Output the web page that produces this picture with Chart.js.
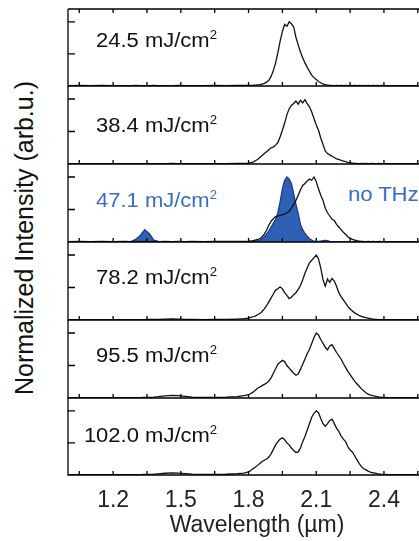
<!DOCTYPE html>
<html>
<head>
<meta charset="utf-8">
<script src="https://cdn.jsdelivr.net/npm/chart.js@4.4.1/dist/chart.umd.min.js"></script>
<style>
  html, body { margin: 0; padding: 0; background: #fff; }
  #wrap { position: relative; width: 419px; height: 541px; overflow: hidden; font-family: "Liberation Sans", Arial, sans-serif; }
  #wrap canvas { position: absolute; left: 0; }
  .lbl { position: absolute; right: 202px; font-size: 20px; line-height: 20px; white-space: nowrap; color: #111;
         transform: scaleX(1.1); transform-origin: right center; }
  .lbl span { font-size: 12px; position: relative; top: -8px; }
  .blue { color: #3a6cc2; }
  #nothz { position: absolute; left: 348px; top: 184px; font-size: 20px; line-height: 20px; color: #3a6cc2;
           transform: scaleX(1.1); transform-origin: left center; white-space: nowrap; }
  #ytitle { position: absolute; left: 24px; top: 238px; width: 360px; margin-left: -180px; margin-top: -13px;
            font-size: 25px; line-height: 26px; text-align: center; color: #111; white-space: nowrap;
            transform: rotate(-90deg); }
</style>
</head>
<body>
<div id="wrap">
  <div id="ytitle">Normalized Intensity (arb.u.)</div>
  <div id="nothz">no THz</div>
</div>
<script>
// wavelength grid (um)
const wavelength = [
  1.00, 1.05, 1.10, 1.15, 1.20, 1.25, 1.28, 1.30, 1.32, 1.34, 1.36, 1.38,
  1.40, 1.43, 1.46, 1.49, 1.52, 1.55, 1.60, 1.65, 1.70, 1.75, 1.78,
  1.80, 1.81, 1.82, 1.83, 1.84, 1.85, 1.86, 1.87, 1.88, 1.89,
  1.90, 1.91, 1.92, 1.93, 1.94, 1.95, 1.96, 1.97, 1.98, 1.99,
  2.00, 2.01, 2.02, 2.03, 2.04, 2.05, 2.06, 2.07, 2.08, 2.09,
  2.10, 2.11, 2.12, 2.13, 2.14, 2.15, 2.16, 2.17, 2.18, 2.19,
  2.20, 2.21, 2.22, 2.23, 2.24, 2.25, 2.26, 2.27, 2.28, 2.29,
  2.30, 2.31, 2.32, 2.33, 2.34, 2.35, 2.36, 2.37, 2.38, 2.39,
  2.40,
  2.42, 2.45, 2.50, 2.55
];

const fluences = ["24.5", "38.4", "47.1", "78.2", "95.5", "102.0"];

const spec245 = [
  0.005, 0.008, 0.005, 0.008, 0.006, 0.007, 0.005, 0.008, 0.006, 0.007, 0.005, 0.008,
  0.006, 0.007, 0.006, 0.008, 0.005, 0.007, 0.006, 0.008, 0.007, 0.008, 0.010,
  0.010, 0.010, 0.012, 0.015, 0.018, 0.020, 0.030, 0.040, 0.060, 0.090,
  0.15, 0.24, 0.36, 0.52, 0.70, 0.85, 0.96, 0.93, 1.00, 0.97,
  0.92, 0.76, 0.64, 0.53, 0.44, 0.36, 0.29, 0.23, 0.17, 0.13,
  0.10, 0.07, 0.05, 0.03, 0.02, 0.015, 0.010, 0.008, 0.007, 0.009,
  0.006, 0.009, 0.007, 0.008, 0.006, 0.009, 0.007, 0.008, 0.006, 0.008,
  0.007, 0.009, 0.006, 0.008, 0.007, 0.008, 0.006, 0.009, 0.007, 0.008,
  0.007,
  0.007, 0.006, 0.007, 0.006
];

const spec384 = [
  0.005, 0.007, 0.005, 0.007, 0.006, 0.006, 0.005, 0.007, 0.006, 0.006, 0.005, 0.007,
  0.006, 0.007, 0.008, 0.007, 0.006, 0.006, 0.006, 0.007, 0.007, 0.008, 0.010,
  0.010, 0.020, 0.030, 0.050, 0.070, 0.10, 0.13, 0.16, 0.19, 0.22,
  0.25, 0.26, 0.29, 0.33, 0.42, 0.52, 0.63, 0.76, 0.85, 0.90,
  0.93, 0.97, 0.92, 0.98, 0.94, 0.99, 0.93, 0.88, 0.80, 0.70,
  0.60, 0.52, 0.40, 0.30, 0.20, 0.16, 0.14, 0.12, 0.10, 0.08,
  0.07, 0.055, 0.045, 0.035, 0.025, 0.02, 0.015, 0.01, 0.008, 0.007,
  0.008, 0.006, 0.008, 0.007, 0.006, 0.008, 0.007, 0.006, 0.008, 0.007,
  0.006,
  0.007, 0.006, 0.007, 0.006
];

// 47.1 mJ/cm2 with THz (blue) and without THz (black)
const spec471 = [
  0.005, 0.006, 0.005, 0.006, 0.005, 0.006, 0.010, 0.040, 0.100, 0.190, 0.130, 0.030,
  0.008, 0.005, 0.006, 0.005, 0.006, 0.005, 0.006, 0.005, 0.005, 0.005, 0.005,
  0.005, 0.008, 0.010, 0.015, 0.020, 0.030, 0.050, 0.080, 0.12, 0.17,
  0.23, 0.29, 0.35, 0.45, 0.62, 0.82, 0.95, 1.00, 0.97, 0.90,
  0.74, 0.58, 0.44, 0.27, 0.19, 0.13, 0.09, 0.05, 0.03, 0.015,
  0.010, 0.010, 0.015, 0.020, 0.025, 0.020, 0.010, 0.006, 0.005, 0.005,
  0.005, 0.005, 0.005, 0.005, 0.005, 0.005, 0.005, 0.005, 0.005, 0.005,
  0.005, 0.005, 0.005, 0.005, 0.005, 0.005, 0.005, 0.005, 0.005, 0.005,
  0.005,
  0.005, 0.005, 0.005, 0.005
];

const specNoTHz = [
  0.006, 0.008, 0.006, 0.008, 0.007, 0.008, 0.006, 0.008, 0.007, 0.008, 0.006, 0.008,
  0.007, 0.008, 0.006, 0.008, 0.007, 0.008, 0.007, 0.008, 0.008, 0.008, 0.010,
  0.010, 0.015, 0.020, 0.030, 0.040, 0.050, 0.080, 0.12, 0.18, 0.26,
  0.32, 0.36, 0.39, 0.40, 0.41, 0.42, 0.43, 0.45, 0.47, 0.52,
  0.58, 0.64, 0.72, 0.80, 0.87, 0.90, 0.94, 0.97, 0.95, 1.00,
  0.93, 0.82, 0.72, 0.64, 0.52, 0.45, 0.40, 0.35, 0.33, 0.27,
  0.23, 0.19, 0.15, 0.12, 0.08, 0.06, 0.04, 0.03, 0.02, 0.015,
  0.010, 0.008, 0.007, 0.008, 0.006, 0.008, 0.007, 0.006, 0.008, 0.007,
  0.006,
  0.007, 0.006, 0.007, 0.006
];

const spec782 = [
  0.005, 0.006, 0.005, 0.006, 0.005, 0.006, 0.006, 0.006, 0.006, 0.007, 0.008, 0.009,
  0.010, 0.014, 0.016, 0.014, 0.010, 0.008, 0.007, 0.008, 0.010, 0.015, 0.020,
  0.03, 0.04, 0.05, 0.06, 0.08, 0.10, 0.13, 0.17, 0.22, 0.28,
  0.34, 0.40, 0.46, 0.48, 0.51, 0.48, 0.42, 0.38, 0.33, 0.35,
  0.39, 0.42, 0.47, 0.53, 0.62, 0.72, 0.80, 0.88, 0.92, 0.96,
  1.00, 0.94, 0.80, 0.62, 0.52, 0.63, 0.58, 0.64, 0.60, 0.52,
  0.42, 0.36, 0.31, 0.26, 0.21, 0.17, 0.14, 0.11, 0.09, 0.07,
  0.055, 0.045, 0.035, 0.03, 0.02, 0.015, 0.01, 0.008, 0.007, 0.006,
  0.006,
  0.007, 0.006, 0.007, 0.006
];

const spec955 = [
  0.005, 0.006, 0.005, 0.006, 0.006, 0.006, 0.006, 0.006, 0.007, 0.008, 0.010, 0.014,
  0.020, 0.032, 0.040, 0.036, 0.025, 0.015, 0.010, 0.010, 0.012, 0.020, 0.035,
  0.05, 0.07, 0.09, 0.12, 0.15, 0.17, 0.19, 0.21, 0.23, 0.26,
  0.31, 0.38, 0.45, 0.52, 0.55, 0.58, 0.56, 0.50, 0.46, 0.42,
  0.38, 0.35, 0.37, 0.44, 0.52, 0.60, 0.68, 0.75, 0.84, 0.93,
  1.00, 0.97, 0.90, 0.84, 0.78, 0.74, 0.80, 0.82, 0.76, 0.70,
  0.65, 0.60, 0.53, 0.47, 0.41, 0.36, 0.31, 0.26, 0.22, 0.18,
  0.14, 0.11, 0.08, 0.06, 0.045, 0.035, 0.03, 0.02, 0.015, 0.01,
  0.01,
  0.007, 0.006, 0.007, 0.006
];

const spec1020 = [
  0.005, 0.006, 0.005, 0.006, 0.006, 0.006, 0.006, 0.006, 0.007, 0.008, 0.010, 0.013,
  0.018, 0.027, 0.032, 0.030, 0.022, 0.014, 0.010, 0.010, 0.012, 0.020, 0.030,
  0.05, 0.07, 0.10, 0.12, 0.15, 0.18, 0.21, 0.23, 0.25, 0.28,
  0.33, 0.40, 0.47, 0.52, 0.56, 0.58, 0.55, 0.50, 0.47, 0.42,
  0.38, 0.35, 0.36, 0.42, 0.52, 0.60, 0.70, 0.80, 0.90, 0.96,
  1.00, 0.97, 0.88, 0.80, 0.76, 0.80, 0.85, 0.87, 0.80, 0.73,
  0.68, 0.61, 0.56, 0.52, 0.44, 0.39, 0.36, 0.30, 0.24, 0.18,
  0.13, 0.10, 0.08, 0.06, 0.045, 0.035, 0.03, 0.02, 0.015, 0.01,
  0.01,
  0.007, 0.006, 0.007, 0.006
];

const xTicks = [1.05, 1.2, 1.35, 1.5, 1.65, 1.8, 1.95, 2.1, 2.25, 2.4, 2.55];
const xTickLabels = [1.2, 1.5, 1.8, 2.1, 2.4];
const yTicks = [0.5, 1.0];

// panel layout (px); the plot runs past the right edge of the picture, as in the original
const panelTops = [9, 86, 164, 242, 320, 398];
const panelBottom = 475;
const labelCapTops = [33, 118, 193, 270, 348, 428];
const canvasW = 446;
const xMax = 2.675;

const BLACK = "#111";
const BLUE = "#2f60b6";

function pts(arr) {
  return wavelength.map((w, i) => ({ x: w, y: arr[i] }));
}

function line(arr) {
  return { data: pts(arr), borderColor: BLACK, borderWidth: 1.3, pointRadius: 0, pointHoverRadius: 0,
           fill: false, tension: 0 };
}

const panels = [
  [line(spec245)],
  [line(spec384)],
  [line(specNoTHz),
   { data: pts(spec471), borderColor: "#1d3f86", backgroundColor: BLUE, borderWidth: 1.3,
     pointRadius: 0, pointHoverRadius: 0, fill: "origin", tension: 0 }],
  [line(spec782)],
  [line(spec955)],
  [line(spec1020)]
];

// border, inward ticks
const framePlugin = {
  id: "frame",
  afterDatasetsDraw(chart, args, opts) {
    const { ctx, chartArea: a } = chart;
    const x = chart.scales.x, y = chart.scales.y;
    ctx.save();
    ctx.strokeStyle = "#000";
    ctx.lineWidth = 1.3;
    ctx.beginPath();
    ctx.moveTo(a.left, a.top);
    ctx.lineTo(a.left, a.bottom);
    ctx.lineTo(a.right, a.bottom);
    if (opts.top) {
      ctx.moveTo(a.left, a.top);
      ctx.lineTo(a.right, a.top);
    }
    yTicks.forEach(v => {
      const py = y.getPixelForValue(v);
      ctx.moveTo(a.left, py);
      ctx.lineTo(a.left + 7, py);
    });
    xTicks.forEach(v => {
      const px = x.getPixelForValue(v);
      ctx.moveTo(px, a.bottom);
      ctx.lineTo(px, a.bottom - 4);
      if (opts.top) {
        ctx.moveTo(px, a.top);
        ctx.lineTo(px, a.top + 4);
      }
    });
    ctx.stroke();
    ctx.restore();
  }
};

const wrap = document.getElementById("wrap");

panels.forEach((datasets, i) => {
  const last = i === panels.length - 1;
  const top = panelTops[i];
  const bottom = last ? panelBottom : panelTops[i + 1];
  const cTop = top - 4;
  const cH = last ? 541 - cTop : (bottom - top) + 8;

  const canvas = document.createElement("canvas");
  canvas.width = canvasW;
  canvas.height = cH;
  canvas.style.top = cTop + "px";
  canvas.style.width = canvasW + "px";
  canvas.style.height = cH + "px";
  wrap.appendChild(canvas);

  new Chart(canvas.getContext("2d"), {
    type: "line",
    data: { datasets },
    options: {
      responsive: false,
      animation: false,
      events: [],
      layout: { autoPadding: false, padding: { left: 68, right: 0, top: 4, bottom: last ? 0 : 4 } },
      plugins: { legend: { display: false }, tooltip: { enabled: false }, frame: { top: i === 0 } },
      scales: {
        x: {
          type: "linear",
          min: 1.0,
          max: xMax,
          display: last,
          grid: { display: false, drawTicks: false },
          border: { display: false },
          afterBuildTicks: s => { s.ticks = xTicks.map(v => ({ value: v })); },
          afterFit: s => { if (last) s.height = 541 - panelBottom; },
          ticks: {
            autoSkip: false,
            maxRotation: 0,
            padding: 12,
            color: "#222",
            font: { family: "Liberation Sans, Arial, sans-serif", size: 23 },
            callback: v => xTickLabels.some(t => Math.abs(t - v) < 1e-6) ? v.toFixed(1) : ""
          },
          title: {
            display: true,
            text: "Wavelength (µm)",
            color: "#222",
            font: { family: "Liberation Sans, Arial, sans-serif", size: 23 },
            padding: { top: 0, bottom: 2 }
          }
        },
        y: { min: 0, max: 1.2, display: false }
      }
    },
    plugins: [framePlugin]
  });

  // fluence label
  const lbl = document.createElement("div");
  lbl.className = "lbl" + (i === 2 ? " blue" : "");
  lbl.style.top = (labelCapTops[i] - 2.6) + "px";
  lbl.innerHTML = fluences[i] + " mJ/cm<span>2</span>";
  wrap.appendChild(lbl);
});
</script>
</body>
</html>
